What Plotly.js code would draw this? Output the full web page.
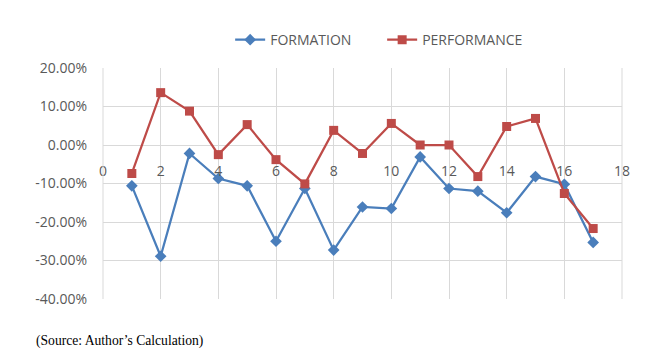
<!DOCTYPE html>
<html>
<head>
<meta charset="utf-8">
<script src="https://cdn.plot.ly/plotly-3.0.1.min.js"></script>
<style>html,body{margin:0;padding:0;background:#fff;}#chart{width:659px;height:352px;}</style>
</head>
<body>
<div id="chart"></div>
<script>
var xValues = [1,2,3,4,5,6,7,8,9,10,11,12,13,14,15,16,17];
var formation = [-0.106,-0.289,-0.022,-0.087,-0.106,-0.250,-0.113,-0.273,-0.161,-0.165,-0.031,-0.113,-0.120,-0.176,-0.082,-0.102,-0.253];
var performance = [-0.074,0.136,0.088,-0.025,0.053,-0.038,-0.101,0.038,-0.022,0.056,0.000,0.000,-0.082,0.048,0.069,-0.126,-0.217];
var xTicks = [0,2,4,6,8,10,12,14,16,18];
var yTicks = [-0.4,-0.3,-0.2,-0.1,0,0.1,0.2];
var yTickLabels = ['-40.00%','-30.00%','-20.00%','-10.00%','0.00%','10.00%','20.00%'];
var seriesNames = ['FORMATION','PERFORMANCE'];
var sourceText = '(Source: Author\u2019s Calculation)';

var traces = [
  {x: xValues, y: formation, name: seriesNames[0], type: 'scatter', mode: 'lines+markers',
   line: {color: '#4a7ebb', width: 2.25}, marker: {symbol: 'diamond', size: 9, color: '#4a7ebb'}},
  {x: xValues, y: performance, name: seriesNames[1], type: 'scatter', mode: 'lines+markers',
   line: {color: '#be4b48', width: 2.25}, marker: {symbol: 'square', size: 9, color: '#be4b48'}}
];

var layout = {
  width: 659, height: 352,
  margin: {l: 103, r: 37, t: 68, b: 53},
  paper_bgcolor: '#fff', plot_bgcolor: '#fff',
  font: {family: 'Open Sans, Arial, sans-serif', size: 14, color: '#595959'},
  showlegend: true,
  legend: {orientation: 'h', x: 0.245, y: 1.121, xanchor: 'left', yanchor: 'middle',
    entrywidth: 107, entrywidthmode: 'pixels',
    font: {family: 'Open Sans, Arial, sans-serif', size: 14, color: '#595959'}},
  xaxis: {range: [0, 18], tickvals: xTicks, ticktext: xTicks.map(String),
    showgrid: true, gridcolor: '#d9d9d9', gridwidth: 1, zeroline: false, showline: false,
    anchor: 'free', position: 2/3, ticks: 'outside', ticklen: 13, tickcolor: 'rgba(0,0,0,0)',
    tickfont: {size: 14, color: '#595959'}, fixedrange: true},
  yaxis: {range: [-0.4, 0.2], tickvals: yTicks, ticktext: yTickLabels,
    showgrid: true, gridcolor: '#d9d9d9', gridwidth: 1, zeroline: false, showline: false,
    ticks: '', ticklabelstandoff: 15,
    tickfont: {size: 14, color: '#595959'}, fixedrange: true},
  shapes: [
    {type: 'line', xref: 'paper', yref: 'paper', x0: 0, x1: 0, y0: 0, y1: 1, line: {color: '#d9d9d9', width: 1}},
    {type: 'line', xref: 'paper', yref: 'paper', x0: 1, x1: 1, y0: 0, y1: 1, line: {color: '#d9d9d9', width: 1}}
  ],
  annotations: [
    {text: sourceText, xref: 'paper', yref: 'paper', x: -0.133, y: -0.182, xanchor: 'left', yanchor: 'middle',
     showarrow: false, font: {family: 'Liberation Serif, Times New Roman, serif', size: 13.6, color: '#000'}}
  ]
};

Plotly.newPlot('chart', traces, layout, {displayModeBar: false, staticPlot: true});
</script>
</body>
</html>
